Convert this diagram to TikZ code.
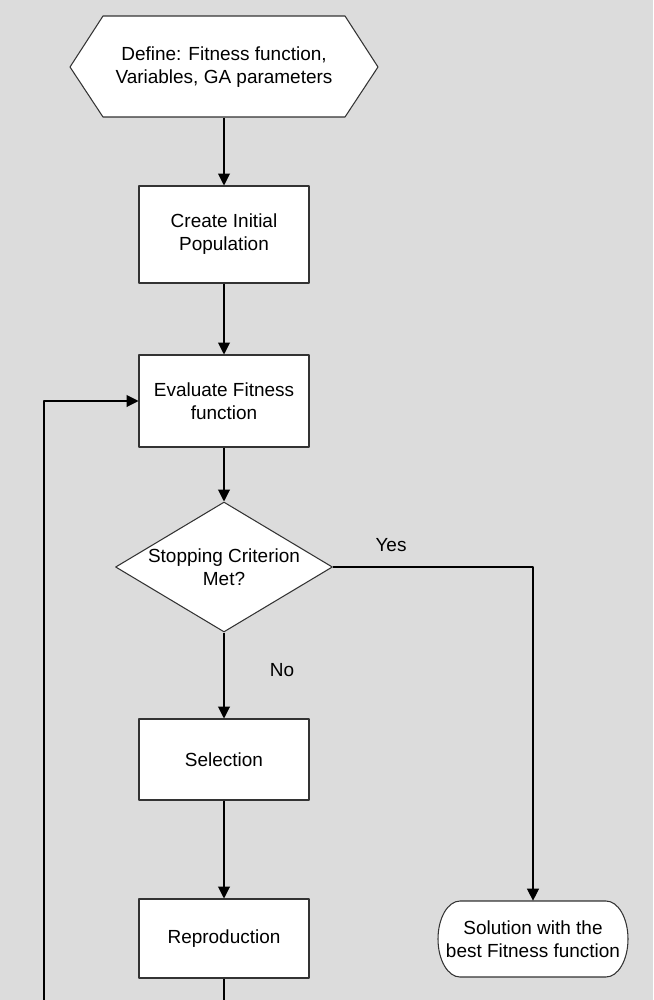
\documentclass[tikz,border=0pt]{standalone}
\usepackage{fontspec}
\setmainfont{Liberation Sans}
\usetikzlibrary{arrows.meta,shapes.geometric}
\definecolor{bg}{RGB}{220,220,220}
\begin{document}
\begin{tikzpicture}[x=0.02cm,y=-0.02cm,>={Triangle[length=6.8pt,width=6.8pt]},
		line join=round,font=\fontsize{10.8}{13}\selectfont,
		box/.style={draw=black!80,fill=white,line width=0.6pt,align=center,minimum width=3.4cm,inner sep=0pt},
		arr/.style={->,line width=0.6pt}]
		\fill[bg] (0,0) rectangle (653,1000);
		\useasboundingbox (0,0) rectangle (653,1000);
		\clip (0,0) rectangle (653,1000);
		\draw[fill=white,draw=black!80,line width=0.6pt] (103,16)--(345,16)--(378,67)--(345,117)--(103,117)--(70,67)--cycle;
		\node[align=center,minimum width=4.84cm,minimum height=2.02cm,inner sep=0pt] (define) at (224,67) {Define: Fitness function,\\Variables, GA parameters};
		\node[box,minimum height=1.94cm] (create) at (224,234.5) {Create Initial\\Population};
		\node[box,minimum height=1.84cm] (eval) at (224,401) {Evaluate Fitness\\function};
		\node[diamond,draw=black!80,fill=white,line width=0.6pt,inner sep=0pt,minimum width=4.34cm,minimum height=2.6cm,
			label={[align=center]center:Stopping Criterion\\Met?}] (stop) at (224,567) {};
		\node[box,minimum height=1.62cm] (sel) at (224,759.5) {Selection};
		\node[box,minimum height=1.58cm] (repro) at (224,938.5) {Reproduction};
		\draw[fill=white,draw=black!80,line width=0.6pt] (460,901)--(606,901) arc[start angle=90,end angle=-90,x radius=0.44cm,y radius=0.76cm]
			--(460,977) arc[start angle=270,end angle=90,x radius=0.44cm,y radius=0.76cm]--cycle;
		\node[align=center,inner sep=0pt,minimum width=3.8cm,minimum height=1.52cm] (sol) at (533,939) {Solution with the\\best Fitness function};
		\coordinate (turn) at (44,1020);
		\draw[arr] (define.south)--(create.north);
		\draw[arr] (create.south)--(eval.north);
		\draw[arr] (eval.south)--(stop.north);
		\draw[arr] (stop.south)--(sel.north);
		\draw[arr] (sel.south)--(repro.north);
		\draw[arr] (stop.east)-|(sol.north);
		\draw[arr] (repro.south)|-(turn)|-(eval.west);
		\node (yes) at (391,545) {Yes};
		\node (no) at (282,670) {No};
\end{tikzpicture}
\end{document}
